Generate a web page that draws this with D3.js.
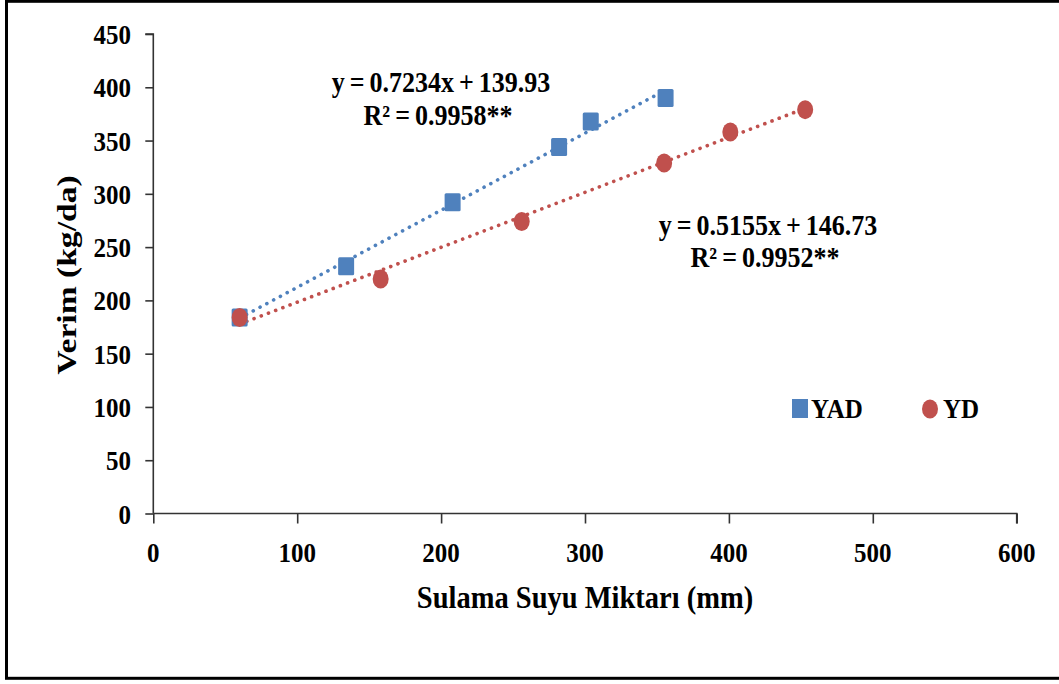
<!DOCTYPE html>
<html>
<head>
<meta charset="utf-8">
<script src="https://cdn.jsdelivr.net/npm/d3@7"></script>
<style>
  body { margin: 0; background: #fff; }
</style>
</head>
<body>
<div id="chart"></div>
<script>
// values
var seriesNames = ["YAD", "YD"];
var yadWater = [60, 134, 208, 282, 304, 356];
var yadYield = [184, 232, 292, 344, 368, 390];
var ydWater = [60, 158, 256, 355, 401, 453];
var ydYield = [184, 220, 274, 329, 358, 379];
var trendSlope = [0.7234, 0.5155];
var trendIntercept = [139.93, 146.73];
var equationText = [
  ["y = 0.7234x + 139.93", "R\u00b2 = 0.9958**"],
  ["y = 0.5155x + 146.73", "R\u00b2 = 0.9952**"]
];
var xTicks = [0, 100, 200, 300, 400, 500, 600];
var yTicks = [0, 50, 100, 150, 200, 250, 300, 350, 400, 450];

var colors = ["#4F81BD", "#C0504D"];
var W = 1059, H = 684, sy = 1.13;

var svg = d3.select("#chart").append("svg")
  .attr("width", W).attr("height", H);

// outer frame (right side runs off the picture)
svg.append("rect")
  .attr("x", 6.5).attr("y", 1.3)
  .attr("width", 1100).attr("height", 677)
  .attr("fill", "none").attr("stroke", "#000").attr("stroke-width", 3);

var x = d3.scaleLinear().domain([0, 600]).range([153.3, 1016.7]);
var y = d3.scaleLinear().domain([0, 450]).range([513.5, 34]);

// text is a bit taller than normal in the original, so stretch it
function label(g, tx, ty, str, size, anchor) {
  return g.append("text")
    .attr("transform", "translate(" + tx + "," + ty + ") scale(1," + sy + ")")
    .attr("text-anchor", anchor || "middle")
    .style("font-family", "Liberation Serif")
    .style("font-weight", "bold")
    .style("font-size", size + "px")
    .style("fill", "#000")
    .text(str);
}

// axes
var xAxis = svg.append("g")
  .attr("transform", "translate(0," + y(0) + ")")
  .call(d3.axisBottom(x).tickValues(xTicks).tickSize(10).tickFormat(""));
var yAxis = svg.append("g")
  .attr("transform", "translate(" + x(0) + ",0)")
  .call(d3.axisLeft(y).tickValues(yTicks).tickSize(8).tickFormat(""));
[xAxis, yAxis].forEach(function (a) {
  a.selectAll("path, line").attr("stroke", "#333").attr("stroke-width", 1.6);
  a.select(".domain").attr("d", a === xAxis
    ? "M" + x(0) + ",0H" + x(600) + "V10"
    : "M-8," + y(450) + "H0V" + y(0));
});

xTicks.forEach(function (t) {
  label(svg, x(t), 562, t, 25);
});
yTicks.forEach(function (t) {
  label(svg, 131, y(t) + 10, t, 25, "end");
});

label(svg, 585, 608, "Sulama Suyu Miktarı (mm)", 28.5);
svg.append("text")
  .attr("transform", "translate(76,275) rotate(-90) scale(1.2,1)")
  .attr("text-anchor", "middle")
  .style("font-family", "Liberation Serif")
  .style("font-weight", "bold")
  .style("font-size", "28px")
  .text("Verim (kg/da)");

// trendlines
var series = [
  { xs: yadWater, ys: yadYield },
  { xs: ydWater, ys: ydYield }
];
series.forEach(function (s, i) {
  var x0 = d3.min(s.xs), x1 = d3.max(s.xs);
  svg.append("line")
    .attr("x1", x(x0)).attr("y1", y(trendSlope[i] * x0 + trendIntercept[i]))
    .attr("x2", x(x1)).attr("y2", y(trendSlope[i] * x1 + trendIntercept[i]))
    .attr("stroke", colors[i]).attr("stroke-width", 3.6)
    .attr("stroke-linecap", "round")
    .attr("stroke-dasharray", "0.1 7.6");
});

// markers
svg.selectAll("rect.yad")
  .data(d3.zip(yadWater, yadYield))
  .enter().append("rect")
  .attr("class", "yad")
  .attr("x", function (d) { return x(d[0]) - 8; })
  .attr("y", function (d) { return y(d[1]) - 9; })
  .attr("width", 16).attr("height", 18)
  .attr("rx", 1.5)
  .attr("fill", colors[0]);

svg.selectAll("ellipse.yd")
  .data(d3.zip(ydWater, ydYield))
  .enter().append("ellipse")
  .attr("class", "yd")
  .attr("cx", function (d) { return x(d[0]); })
  .attr("cy", function (d) { return y(d[1]); })
  .attr("rx", 8).attr("ry", 9.5)
  .attr("fill", colors[1]);

// equations
var eqPos = [[441, 92, 125], [768, 235, 267]];
equationText.forEach(function (lines, i) {
  label(svg, eqPos[i][0], eqPos[i][1], lines[0], 26).style("word-spacing", "-1.5px");
  label(svg, eqPos[i][0] - 3, eqPos[i][2], lines[1], 26).style("word-spacing", "-1.5px");
});

// legend
svg.append("rect")
  .attr("x", 792).attr("y", 399).attr("width", 16).attr("height", 19)
  .attr("fill", colors[0]);
label(svg, 811, 418, seriesNames[0], 25, "start");
svg.append("ellipse")
  .attr("cx", 930).attr("cy", 409).attr("rx", 8).attr("ry", 9.5)
  .attr("fill", colors[1]);
label(svg, 943, 418, seriesNames[1], 25, "start");
</script>
</body>
</html>
